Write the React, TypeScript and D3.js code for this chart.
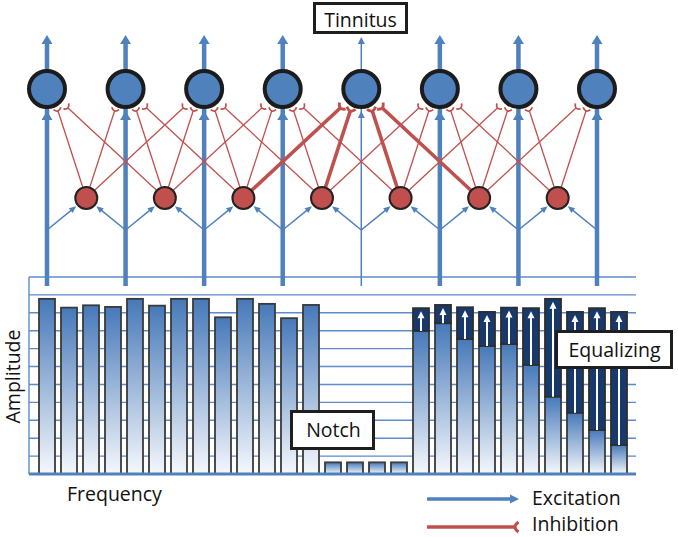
import React from 'react';
import * as d3 from 'd3';

// ---- data ----
const channels = [0, 1, 2, 3, 4, 5, 6, 7];
const tinnitusChannel = 4;
const interneurons = [0, 1, 2, 3, 4, 5, 6];
const leftAmplitude = [9.78, 9.29, 9.42, 9.33, 9.78, 9.4, 9.78, 9.78, 8.75, 9.78, 9.5, 8.7, 9.44];
const notchAmplitude = [0.65, 0.65, 0.65, 0.65];
const rightInputAmplitude = [7.99, 8.42, 7.54, 7.15, 7.26, 6.09, 4.32, 3.42, 2.46, 1.62];
const rightEqualizedAmplitude = [9.26, 9.44, 9.31, 9.05, 9.29, 9.26, 9.78, 9.05, 9.26, 9.05];
const gridLevels = [0, 1, 2, 3, 4, 5, 6, 7, 8, 9, 10, 11];
const legendItems = ['Excitation', 'Inhibition'];

const BLUE = '#4f81bd';
const RED = '#c0504d';
const NAVY = '#17396b';
const FONT = '"Open Sans", sans-serif';
const FS = 19.5;

type Bin = { i: number; input: number; equalized: number | null };
const bins: Bin[] = [
  ...leftAmplitude.map((v) => ({ input: v, equalized: null })),
  ...notchAmplitude.map((v) => ({ input: v, equalized: null })),
  ...rightInputAmplitude.map((v, k) => ({ input: v, equalized: rightEqualizedAmplitude[k] })),
].map((b, i) => ({ ...b, i }));

function tri(tx: number, ty: number, ux: number, uy: number, len: number, w: number) {
  const bx = tx - ux * len, by = ty - uy * len;
  const nx = -uy, ny = ux;
  return `M${tx},${ty}L${bx + (nx * w) / 2},${by + (ny * w) / 2}L${bx - (nx * w) / 2},${by - (ny * w) / 2}Z`;
}

function cap(ex: number, ey: number, ux: number, uy: number, half: number) {
  const nx = -uy, ny = ux;
  const f = half * 0.7;
  const p0 = [ex + nx * half + ux * f, ey + ny * half + uy * f];
  const c = [ex - ux * f, ey - uy * f];
  const p2 = [ex - nx * half + ux * f, ey - ny * half + uy * f];
  return `M${p0[0]},${p0[1]}Q${c[0]},${c[1]} ${p2[0]},${p2[1]}`;
}

export default function App() {
  const W = 678, H = 537;
  const xN = d3.scalePoint<number>().domain(channels).range([47, 597]);
  const yTop = 89, rTop = 18;
  const yInter = 198, rInter = 11;
  const yBranch = 230;
  const yLineBottom = 286;
  const xInter = (i: number) => ((xN(i) as number) + (xN(i + 1) as number)) / 2;

  const xBar = d3.scaleBand<number>().domain(bins.map((b) => b.i)).range([36, 630]).paddingInner(6 / 22).paddingOuter(3 / 22);
  const yAmp = d3.scaleLinear().domain([0, 11]).range([474, 277]);
  const gridLeft = 29, gridRight = 636;

  // inhibitory connections
  const inhib: { i: number; j: number }[] = [];
  interneurons.forEach((i) => {
    [i - 1, i, i + 1, i + 2].forEach((j) => {
      if (j >= 0 && j < channels.length) inhib.push({ i, j });
    });
  });

  return (
    <svg width={W} height={H} style={{ position: 'absolute', left: 0, top: 0, background: '#fff' }} fontFamily={FONT}>
      <defs>
        <linearGradient id="barGrad" x1="0" y1="0" x2="0" y2="1">
          <stop offset="0" stopColor="#4679b9" />
          <stop offset="1" stopColor="#f5f8fc" />
        </linearGradient>
      </defs>

      {/* grid */}
      <g>
        {gridLevels.map((v) => (
          <line key={v} x1={gridLeft} x2={gridRight} y1={yAmp(v)} y2={yAmp(v)} stroke="#5d8cc8" strokeWidth={1.4} />
        ))}
        <line x1={gridLeft} x2={gridLeft} y1={yAmp(11)} y2={yAmp(0)} stroke="#5d8cc8" strokeWidth={1.4} />
      </g>

      {/* bars */}
      <g>
        {bins.map((b) => {
          const x = xBar(b.i) as number;
          const w = xBar.bandwidth();
          const yIn = yAmp(b.input);
          const base = yAmp(0);
          return (
            <g key={b.i}>
              <rect x={x} y={yIn} width={w} height={base - yIn} fill="url(#barGrad)" stroke="#3a3a3a" strokeWidth={1.8} />
              {b.equalized !== null && (
                <g>
                  <rect x={x} y={yAmp(b.equalized)} width={w} height={yIn - yAmp(b.equalized)} fill={NAVY} stroke="#2e2e2e" strokeWidth={1.8} />
                  <line x1={x + w / 2} x2={x + w / 2} y1={yIn} y2={yAmp(b.equalized) + 8} stroke="#fff" strokeWidth={2} />
                  <path d={tri(x + w / 2, yAmp(b.equalized) + 3, 0, -1, 7, 7)} fill="#fff" />
                </g>
              )}
            </g>
          );
        })}
        <line x1={gridLeft} x2={gridRight} y1={yAmp(0)} y2={yAmp(0)} stroke="#4f81bd" strokeWidth={3} />
      </g>

      {/* excitatory vertical pathways */}
      <g>
        {channels.map((c) => {
          const x = xN(c) as number;
          const thin = c === tinnitusChannel;
          const sw = thin ? 1.5 : 4.5;
          const hl = thin ? 7 : 9;
          const hw = thin ? 7 : 11;
          return (
            <g key={c}>
              <line x1={x} x2={x} y1={yLineBottom} y2={40} stroke={BLUE} strokeWidth={sw} />
              <path d={tri(x, yTop + rTop + 4, 0, -1, hl, hw)} fill={BLUE} />
              <path d={tri(x, thin ? 37 : 35, 0, -1, hl, hw)} fill={BLUE} />
            </g>
          );
        })}
      </g>

      {/* excitatory branches to interneurons */}
      <g>
        {channels.flatMap((c) =>
          [c - 1, c].filter((i) => i >= 0 && i < interneurons.length).map((i) => {
            const sx = xN(c) as number, sy = yBranch;
            const rx = xInter(i), ry = yInter;
            const dx = rx - sx, dy = ry - sy;
            const L = Math.hypot(dx, dy);
            const ux = dx / L, uy = dy / L;
            const tx = rx - ux * (rInter + 2), ty = ry - uy * (rInter + 2);
            return (
              <g key={`${c}-${i}`}>
                <line x1={sx} y1={sy} x2={tx - ux * 5} y2={ty - uy * 5} stroke={BLUE} strokeWidth={1.5} />
                <path d={tri(tx, ty, ux, uy, 7, 6)} fill={BLUE} />
              </g>
            );
          })
        )}
      </g>

      {/* inhibitory connections */}
      <g>
        {inhib.map(({ i, j }) => {
          const rx = xInter(i), ry = yInter;
          const tx = xN(j) as number;
          const off = j === i ? 11 : j === i + 1 ? -11 : j === i - 1 ? 21 : -21;
          const ex = tx + off;
          const ey = Math.abs(off) === 11 ? 111 : 108;
          const dx = ex - rx, dy = ey - ry;
          const L = Math.hypot(dx, dy);
          const ux = dx / L, uy = dy / L;
          const thick = j === tinnitusChannel;
          return (
            <g key={`${i}-${j}`}>
              <line x1={rx} y1={ry} x2={ex} y2={ey} stroke={RED} strokeWidth={thick ? 3.6 : 1.3} />
              <path d={cap(ex, ey, ux, uy, thick ? 4.5 : 3.8)} fill="none" stroke={RED} strokeWidth={thick ? 2.8 : 1.8} />
            </g>
          );
        })}
      </g>

      {/* neurons */}
      <g>
        {channels.map((c) => (
          <circle key={c} cx={xN(c) as number} cy={yTop} r={rTop} fill={BLUE} stroke="#1c1c1c" strokeWidth={4} />
        ))}
        {interneurons.map((i) => (
          <circle key={i} cx={xInter(i)} cy={yInter} r={rInter} fill={RED} stroke="#222" strokeWidth={2} />
        ))}
      </g>

      {/* label boxes */}
      <g fontSize={FS} fill="#111">
        <rect x={314.5} y={3.5} width={92} height={29} fill="#fff" stroke="#1e1e1e" strokeWidth={3} />
        <text x={360.5} y={27} textAnchor="middle">Tinnitus</text>
        <rect x={291.5} y={411.5} width={82} height={37} fill="#fff" stroke="#1e1e1e" strokeWidth={3} />
        <text x={333.5} y={437} textAnchor="middle">Notch</text>
        <rect x={556.5} y={331.5} width={115} height={36} fill="#fff" stroke="#1e1e1e" strokeWidth={3} />
        <text x={614.5} y={357} textAnchor="middle">Equalizing</text>
      </g>

      {/* axis titles */}
      <g fontSize={FS} fill="#111">
        <text transform={`translate(20,376.5) rotate(-90)`} textAnchor="middle">Amplitude</text>
        <text x={67} y={501}>Frequency</text>
      </g>

      {/* legend */}
      <g fontSize={FS} fill="#111">
        <line x1={427} x2={512} y1={499} y2={499} stroke={BLUE} strokeWidth={3.5} />
        <path d={tri(519, 499, 1, 0, 9, 9)} fill={BLUE} />
        <text x={532} y={505}>{legendItems[0]}</text>
        <line x1={427} x2={515} y1={527} y2={527} stroke={RED} strokeWidth={3.5} />
        <path d={cap(515, 527, 1, 0, 5)} fill="none" stroke={RED} strokeWidth={3} />
        <text x={532} y={531}>{legendItems[1]}</text>
      </g>
    </svg>
  );
}
